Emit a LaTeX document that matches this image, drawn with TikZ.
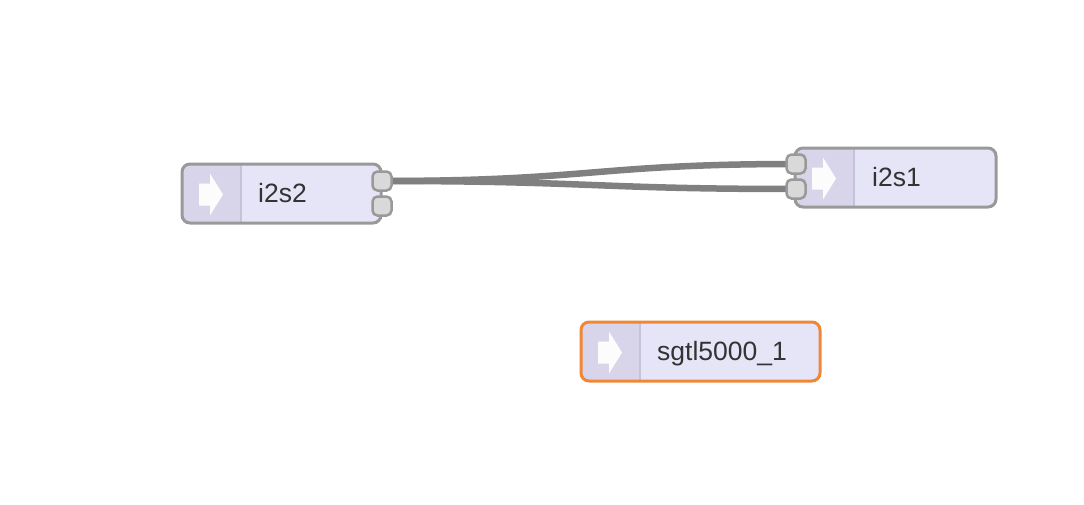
\documentclass[tikz,border=0pt]{standalone}
\usepackage{fontspec}
\setmainfont{Liberation Sans}
\definecolor{nodefill}{RGB}{230,228,247}
\definecolor{iconfill}{RGB}{216,213,234}
\definecolor{divider}{RGB}{198,194,218}
\definecolor{nodeborder}{RGB}{153,153,153}
\definecolor{portfill}{RGB}{217,217,217}
\definecolor{wirecol}{RGB}{128,128,128}
\definecolor{selcol}{RGB}{239,135,55}
\definecolor{labelcol}{RGB}{51,51,51}
\tikzset{
  flownode/.style={draw=nodeborder, line width=3pt, fill=nodefill, rounded corners=8pt,
    rectangle, inner sep=0pt, minimum height=59pt,
    path picture={
      \fill[iconfill, sharp corners] (path picture bounding box.south west) rectangle ([xshift=59pt]path picture bounding box.north west);
      \draw[divider, line width=2pt, sharp corners] ([xshift=59pt]path picture bounding box.south west) -- ([xshift=59pt]path picture bounding box.north west);
      \fill[white, opacity=0.95, sharp corners] ([xshift=17pt]path picture bounding box.west) ++(0,12) -- ++(11,0) -- ++(0,10) -- ++(13,-21) -- ++(-13,-21) -- ++(0,10) -- ++(-11,0) -- cycle;
    }},
  selnode/.style={flownode, draw=selcol},
  port/.style={draw=nodeborder, line width=2.5pt, fill=portfill, rounded corners=5pt,
    rectangle, inner sep=0pt, minimum size=19pt},
  wire/.style={draw=wirecol, line width=6.5pt},
  nodelabel/.style={anchor=base west, inner sep=0pt, text=labelcol, font=\fontsize{26.5pt}{30pt}\selectfont}
}
\begin{document}
\begin{tikzpicture}[x=1pt, y=-1pt]
\useasboundingbox (0,0) rectangle (1084,504);
% ports positions (coordinates)
\coordinate (o1) at (382,181);
\coordinate (o2) at (382,206);
\coordinate (in1) at (796,164);
\coordinate (in2) at (796,189);
% wires
\draw[wire] (o1) .. controls (590,181) and (596,164) .. (in1);
\draw[wire] (o1) .. controls (590,181) and (596,189) .. (in2);
% nodes
\node[flownode, minimum width=199pt] (i2s2) at (281.5,193.5) {};
\node[flownode, minimum width=201pt] (i2s1) at (895.5,177.5) {};
\node[selnode, minimum width=239pt] (sgtl) at (700.5,351.5) {};
% labels
\node[nodelabel] (i2s2label) at (258,202) {i2s2};
\node[nodelabel] (i2s1label) at (872,186) {i2s1};
\node[nodelabel] (sgtllabel) at (657,360) {sgtl5000\_1};
% ports
\node[port] (i2s2out1) at (o1) {};
\node[port] (i2s2out2) at (o2) {};
\node[port] (i2s1in1) at (in1) {};
\node[port] (i2s1in2) at (in2) {};
\end{tikzpicture}
\end{document}
